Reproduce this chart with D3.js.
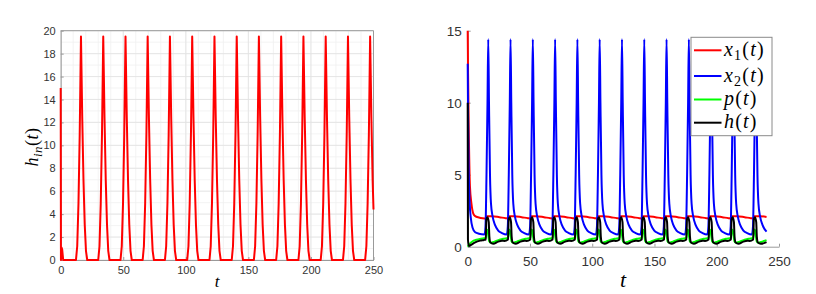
<!DOCTYPE html>
<html>
<head>
<meta charset="utf-8">
<script src="https://cdn.jsdelivr.net/npm/d3@7"></script>
<style>
body { margin: 0; background: #fff; }
svg { display: block; }
.tick text { font-family: "Liberation Sans", Arial, sans-serif; fill: #333; }
.math { font-family: "Liberation Serif", "Times New Roman", serif; fill: #000; }
</style>
</head>
<body>
<div id="chart"></div>
<script>
// left panel: h_in(t), [t, value]
const hinData = [
    [0, 15], [0.2, 0], [0.6, 1.1], [1.2, 0.9], [2.0, 0],
    [12.2, 0], [13.2, 1.2], [14.2, 4.9], [15.2, 11.0], [16.2, 19.5], [17.2, 12.5], [18.2, 7.0], [19.2, 3.1], [20.2, 0.8], [21.2, 0],
    [30.0, 0], [31.0, 1.2], [32.0, 4.9], [33.0, 11.0], [34.0, 19.5], [35.0, 12.5], [36.0, 7.0], [37.0, 3.1], [38.0, 0.8], [39.0, 0],
    [47.8, 0], [48.8, 1.2], [49.8, 4.9], [50.8, 11.0], [51.8, 19.5], [52.8, 12.5], [53.8, 7.0], [54.8, 3.1], [55.8, 0.8], [56.8, 0],
    [65.5, 0], [66.5, 1.2], [67.5, 4.9], [68.5, 11.0], [69.5, 19.5], [70.5, 12.5], [71.5, 7.0], [72.5, 3.1], [73.5, 0.8], [74.5, 0],
    [83.3, 0], [84.3, 1.2], [85.3, 4.9], [86.3, 11.0], [87.3, 19.5], [88.3, 12.5], [89.3, 7.0], [90.3, 3.1], [91.3, 0.8], [92.3, 0],
    [101.1, 0], [102.1, 1.2], [103.1, 4.9], [104.1, 11.0], [105.1, 19.5], [106.1, 12.5], [107.1, 7.0], [108.1, 3.1], [109.1, 0.8], [110.1, 0],
    [118.9, 0], [119.9, 1.2], [120.9, 4.9], [121.9, 11.0], [122.9, 19.5], [123.9, 12.5], [124.9, 7.0], [125.9, 3.1], [126.9, 0.8], [127.9, 0],
    [136.7, 0], [137.7, 1.2], [138.7, 4.9], [139.7, 11.0], [140.7, 19.5], [141.7, 12.5], [142.7, 7.0], [143.7, 3.1], [144.7, 0.8], [145.7, 0],
    [154.4, 0], [155.4, 1.2], [156.4, 4.9], [157.4, 11.0], [158.4, 19.5], [159.4, 12.5], [160.4, 7.0], [161.4, 3.1], [162.4, 0.8], [163.4, 0],
    [172.2, 0], [173.2, 1.2], [174.2, 4.9], [175.2, 11.0], [176.2, 19.5], [177.2, 12.5], [178.2, 7.0], [179.2, 3.1], [180.2, 0.8], [181.2, 0],
    [190.0, 0], [191.0, 1.2], [192.0, 4.9], [193.0, 11.0], [194.0, 19.5], [195.0, 12.5], [196.0, 7.0], [197.0, 3.1], [198.0, 0.8], [199.0, 0],
    [207.8, 0], [208.8, 1.2], [209.8, 4.9], [210.8, 11.0], [211.8, 19.5], [212.8, 12.5], [213.8, 7.0], [214.8, 3.1], [215.8, 0.8], [216.8, 0],
    [225.6, 0], [226.6, 1.2], [227.6, 4.9], [228.6, 11.0], [229.6, 19.5], [230.6, 12.5], [231.6, 7.0], [232.6, 3.1], [233.6, 0.8], [234.6, 0],
    [243.3, 0], [244.3, 1.2], [245.3, 4.9], [246.3, 11.0], [247.3, 19.5], [248.3, 12.5], [249.3, 7.0], [250, 4.4]
];

// right panel: x1(t)
const x1Data = [
    [0, 15], [0.3, 12], [0.8, 8.5], [1.8, 4.2], [3, 3.0], [4.5, 2.3], [6, 2.12], [9, 2.03], [12, 1.98],
    [14.7, 1.96], [15.2, 2.12], [19.5, 2.12], [25.5, 2.05], [30.5, 1.98],
    [32.6, 1.96], [33.1, 2.12], [37.4, 2.12], [43.4, 2.05], [48.4, 1.98],
    [50.5, 1.96], [51.0, 2.12], [55.3, 2.12], [61.3, 2.05], [66.3, 1.98],
    [68.4, 1.96], [68.9, 2.12], [73.2, 2.12], [79.2, 2.05], [84.2, 1.98],
    [86.3, 1.96], [86.8, 2.12], [91.1, 2.12], [97.1, 2.05], [102.1, 1.98],
    [104.2, 1.96], [104.7, 2.12], [109.0, 2.12], [115.0, 2.05], [120.0, 1.98],
    [122.1, 1.96], [122.6, 2.12], [126.9, 2.12], [132.9, 2.05], [137.9, 1.98],
    [140.0, 1.96], [140.5, 2.12], [144.8, 2.12], [150.8, 2.05], [155.8, 1.98],
    [157.9, 1.96], [158.4, 2.12], [162.7, 2.12], [168.7, 2.05], [173.7, 1.98],
    [175.8, 1.96], [176.3, 2.12], [180.6, 2.12], [186.6, 2.05], [191.6, 1.98],
    [193.7, 1.96], [194.2, 2.12], [198.5, 2.12], [204.5, 2.05], [209.5, 1.98],
    [211.6, 1.96], [212.1, 2.12], [216.4, 2.12], [222.4, 2.05], [227.4, 1.98],
    [229.5, 1.96], [230.0, 2.12], [234.3, 2.12], [240, 2.07]
];

// right panel: x2(t)
const x2Data = [
    [0, 12.7], [0.3, 9], [0.8, 5.5], [1.5, 3.2], [2.5, 2.0], [4, 1.3], [6, 1.0], [9, 0.9], [13.5, 0.85],
    [14.3, 1.4], [15.1, 5.0], [15.9, 10.0], [16.5, 14.4], [17.1, 10.0], [17.9, 5.0], [18.7, 3.0], [20.0, 2.1], [22.0, 1.5], [24.5, 1.12], [27.5, 0.95],
    [31.4, 0.85], [32.2, 1.4], [33.0, 5.0], [33.8, 10.0], [34.4, 14.4], [35.0, 10.0], [35.8, 5.0], [36.6, 3.0], [37.9, 2.1], [39.9, 1.5], [42.4, 1.12], [45.4, 0.95],
    [49.3, 0.85], [50.1, 1.4], [50.9, 5.0], [51.7, 10.0], [52.3, 14.4], [52.9, 10.0], [53.7, 5.0], [54.5, 3.0], [55.8, 2.1], [57.8, 1.5], [60.3, 1.12], [63.3, 0.95],
    [67.2, 0.85], [68.0, 1.4], [68.8, 5.0], [69.6, 10.0], [70.2, 14.4], [70.8, 10.0], [71.6, 5.0], [72.4, 3.0], [73.7, 2.1], [75.7, 1.5], [78.2, 1.12], [81.2, 0.95],
    [85.1, 0.85], [85.9, 1.4], [86.7, 5.0], [87.5, 10.0], [88.1, 14.4], [88.7, 10.0], [89.5, 5.0], [90.3, 3.0], [91.6, 2.1], [93.6, 1.5], [96.1, 1.12], [99.1, 0.95],
    [103.0, 0.85], [103.8, 1.4], [104.6, 5.0], [105.4, 10.0], [106.0, 14.4], [106.6, 10.0], [107.4, 5.0], [108.2, 3.0], [109.5, 2.1], [111.5, 1.5], [114.0, 1.12], [117.0, 0.95],
    [120.9, 0.85], [121.7, 1.4], [122.5, 5.0], [123.3, 10.0], [123.9, 14.4], [124.5, 10.0], [125.3, 5.0], [126.1, 3.0], [127.4, 2.1], [129.4, 1.5], [131.9, 1.12], [134.9, 0.95],
    [138.8, 0.85], [139.6, 1.4], [140.4, 5.0], [141.2, 10.0], [141.8, 14.4], [142.4, 10.0], [143.2, 5.0], [144.0, 3.0], [145.3, 2.1], [147.3, 1.5], [149.8, 1.12], [152.8, 0.95],
    [156.7, 0.85], [157.5, 1.4], [158.3, 5.0], [159.1, 10.0], [159.7, 14.4], [160.3, 10.0], [161.1, 5.0], [161.9, 3.0], [163.2, 2.1], [165.2, 1.5], [167.7, 1.12], [170.7, 0.95],
    [174.6, 0.85], [175.4, 1.4], [176.2, 5.0], [177.0, 10.0], [177.6, 14.4], [178.2, 10.0], [179.0, 5.0], [179.8, 3.0], [181.1, 2.1], [183.1, 1.5], [185.6, 1.12], [188.6, 0.95],
    [192.5, 0.85], [193.3, 1.4], [194.1, 5.0], [194.9, 10.0], [195.5, 14.4], [196.1, 10.0], [196.9, 5.0], [197.7, 3.0], [199.0, 2.1], [201.0, 1.5], [203.5, 1.12], [206.5, 0.95],
    [210.4, 0.85], [211.2, 1.4], [212.0, 5.0], [212.8, 10.0], [213.4, 14.4], [214.0, 10.0], [214.8, 5.0], [215.6, 3.0], [216.9, 2.1], [218.9, 1.5], [221.4, 1.12], [224.4, 0.95],
    [228.3, 0.85], [229.1, 1.4], [229.9, 5.0], [230.7, 10.0], [231.3, 14.4], [231.9, 10.0], [232.7, 5.0], [233.5, 3.0], [234.8, 2.1], [236.8, 1.5], [240, 1.05]
];

// right panel: p(t)
const pData = [
    [0, 0], [1, 0.12], [2, 0.23], [4, 0.38], [6, 0.46], [9, 0.52], [12, 0.57],
    [14.5, 0.6], [15.0, 1.2], [15.9, 1.15], [16.7, 0.7], [17.3, 0.38], [18.5, 0.28], [21.5, 0.35], [25.5, 0.48], [28.5, 0.55],
    [32.4, 0.6], [32.9, 1.2], [33.8, 1.15], [34.6, 0.7], [35.2, 0.38], [36.4, 0.28], [39.4, 0.35], [43.4, 0.48], [46.4, 0.55],
    [50.3, 0.6], [50.8, 1.2], [51.7, 1.15], [52.5, 0.7], [53.1, 0.38], [54.3, 0.28], [57.3, 0.35], [61.3, 0.48], [64.3, 0.55],
    [68.2, 0.6], [68.7, 1.2], [69.6, 1.15], [70.4, 0.7], [71.0, 0.38], [72.2, 0.28], [75.2, 0.35], [79.2, 0.48], [82.2, 0.55],
    [86.1, 0.6], [86.6, 1.2], [87.5, 1.15], [88.3, 0.7], [88.9, 0.38], [90.1, 0.28], [93.1, 0.35], [97.1, 0.48], [100.1, 0.55],
    [104.0, 0.6], [104.5, 1.2], [105.4, 1.15], [106.2, 0.7], [106.8, 0.38], [108.0, 0.28], [111.0, 0.35], [115.0, 0.48], [118.0, 0.55],
    [121.9, 0.6], [122.4, 1.2], [123.3, 1.15], [124.1, 0.7], [124.7, 0.38], [125.9, 0.28], [128.9, 0.35], [132.9, 0.48], [135.9, 0.55],
    [139.8, 0.6], [140.3, 1.2], [141.2, 1.15], [142.0, 0.7], [142.6, 0.38], [143.8, 0.28], [146.8, 0.35], [150.8, 0.48], [153.8, 0.55],
    [157.7, 0.6], [158.2, 1.2], [159.1, 1.15], [159.9, 0.7], [160.5, 0.38], [161.7, 0.28], [164.7, 0.35], [168.7, 0.48], [171.7, 0.55],
    [175.6, 0.6], [176.1, 1.2], [177.0, 1.15], [177.8, 0.7], [178.4, 0.38], [179.6, 0.28], [182.6, 0.35], [186.6, 0.48], [189.6, 0.55],
    [193.5, 0.6], [194.0, 1.2], [194.9, 1.15], [195.7, 0.7], [196.3, 0.38], [197.5, 0.28], [200.5, 0.35], [204.5, 0.48], [207.5, 0.55],
    [211.4, 0.6], [211.9, 1.2], [212.8, 1.15], [213.6, 0.7], [214.2, 0.38], [215.4, 0.28], [218.4, 0.35], [222.4, 0.48], [225.4, 0.55],
    [229.3, 0.6], [229.8, 1.2], [230.7, 1.15], [231.5, 0.7], [232.1, 0.38], [233.3, 0.28], [236.3, 0.35], [240, 0.46]
];

// right panel: h(t)
const hData = [
    [0, 10], [0.2, 0.5], [1, 0.05], [3, 0.15], [6, 0.3], [10, 0.42], [13, 0.47],
    [14.5, 0.5], [15.0, 1.9], [15.9, 2.05], [16.9, 1.7], [17.4, 0.7], [18.2, 0.3], [20.5, 0.2], [24.5, 0.35], [27.5, 0.42], [29.5, 0.4],
    [32.4, 0.5], [32.9, 1.9], [33.8, 2.05], [34.8, 1.7], [35.3, 0.7], [36.1, 0.3], [38.4, 0.2], [42.4, 0.35], [45.4, 0.42], [47.4, 0.4],
    [50.3, 0.5], [50.8, 1.9], [51.7, 2.05], [52.7, 1.7], [53.2, 0.7], [54.0, 0.3], [56.3, 0.2], [60.3, 0.35], [63.3, 0.42], [65.3, 0.4],
    [68.2, 0.5], [68.7, 1.9], [69.6, 2.05], [70.6, 1.7], [71.1, 0.7], [71.9, 0.3], [74.2, 0.2], [78.2, 0.35], [81.2, 0.42], [83.2, 0.4],
    [86.1, 0.5], [86.6, 1.9], [87.5, 2.05], [88.5, 1.7], [89.0, 0.7], [89.8, 0.3], [92.1, 0.2], [96.1, 0.35], [99.1, 0.42], [101.1, 0.4],
    [104.0, 0.5], [104.5, 1.9], [105.4, 2.05], [106.4, 1.7], [106.9, 0.7], [107.7, 0.3], [110.0, 0.2], [114.0, 0.35], [117.0, 0.42], [119.0, 0.4],
    [121.9, 0.5], [122.4, 1.9], [123.3, 2.05], [124.3, 1.7], [124.8, 0.7], [125.6, 0.3], [127.9, 0.2], [131.9, 0.35], [134.9, 0.42], [136.9, 0.4],
    [139.8, 0.5], [140.3, 1.9], [141.2, 2.05], [142.2, 1.7], [142.7, 0.7], [143.5, 0.3], [145.8, 0.2], [149.8, 0.35], [152.8, 0.42], [154.8, 0.4],
    [157.7, 0.5], [158.2, 1.9], [159.1, 2.05], [160.1, 1.7], [160.6, 0.7], [161.4, 0.3], [163.7, 0.2], [167.7, 0.35], [170.7, 0.42], [172.7, 0.4],
    [175.6, 0.5], [176.1, 1.9], [177.0, 2.05], [178.0, 1.7], [178.5, 0.7], [179.3, 0.3], [181.6, 0.2], [185.6, 0.35], [188.6, 0.42], [190.6, 0.4],
    [193.5, 0.5], [194.0, 1.9], [194.9, 2.05], [195.9, 1.7], [196.4, 0.7], [197.2, 0.3], [199.5, 0.2], [203.5, 0.35], [206.5, 0.42], [208.5, 0.4],
    [211.4, 0.5], [211.9, 1.9], [212.8, 2.05], [213.8, 1.7], [214.3, 0.7], [215.1, 0.3], [217.4, 0.2], [221.4, 0.35], [224.4, 0.42], [226.4, 0.4],
    [229.3, 0.5], [229.8, 1.9], [230.7, 2.05], [231.7, 1.7], [232.2, 0.7], [233.0, 0.3], [235.3, 0.2], [240, 0.32]
];

// tick values
const xTicks = [0, 50, 100, 150, 200, 250];
const yTicksLeft = [0, 2, 4, 6, 8, 10, 12, 14, 16, 18, 20];
const yTicksRight = [0, 5, 10, 15];
const xMinor = d3.range(0, 251, 10);
const yMinor = d3.range(0, 21, 1);

const svgWidth = 816;
const svgHeight = 294;

const svg = d3.select("#chart")
    .append("svg")
    .attr("width", svgWidth)
    .attr("height", svgHeight);

// scales
const xLeft = d3.scaleLinear().domain([0, 250]).range([60.7, 373.5]);
const yLeft = d3.scaleLinear().domain([0, 20]).range([260, 30.7]);
const xRight = d3.scaleLinear().domain([0, 250]).range([467.7, 779]);
const yRight = d3.scaleLinear().domain([0, 15]).range([246.7, 30.7]);

const axisColor = "#9a9a9a";

// left grid, minor then major
const grid = svg.append("g");
grid.selectAll(".vminor").data(xMinor).enter().append("line")
    .attr("x1", d => xLeft(d)).attr("x2", d => xLeft(d))
    .attr("y1", yLeft(0)).attr("y2", yLeft(20))
    .attr("stroke", "#f0f0f0").attr("stroke-width", 0.8);
grid.selectAll(".hminor").data(yMinor).enter().append("line")
    .attr("x1", xLeft(0)).attr("x2", xLeft(250))
    .attr("y1", d => yLeft(d)).attr("y2", d => yLeft(d))
    .attr("stroke", "#f0f0f0").attr("stroke-width", 0.8);
grid.selectAll(".vmajor").data(xTicks).enter().append("line")
    .attr("x1", d => xLeft(d)).attr("x2", d => xLeft(d))
    .attr("y1", yLeft(0)).attr("y2", yLeft(20))
    .attr("stroke", "#e2e2e2").attr("stroke-width", 0.8);
grid.selectAll(".hmajor").data(yTicksLeft).enter().append("line")
    .attr("x1", xLeft(0)).attr("x2", xLeft(250))
    .attr("y1", d => yLeft(d)).attr("y2", d => yLeft(d))
    .attr("stroke", "#e2e2e2").attr("stroke-width", 0.8);

// left axes
const xAxisLeft = svg.append("g")
    .attr("transform", `translate(0, ${yLeft(0)})`)
    .call(d3.axisBottom(xLeft).tickValues(xTicks).tickSize(-3).tickSizeOuter(0).tickPadding(6));
const yAxisLeft = svg.append("g")
    .attr("transform", `translate(${xLeft(0)}, 0)`)
    .call(d3.axisLeft(yLeft).tickValues(yTicksLeft).tickSize(-3).tickSizeOuter(0).tickPadding(5));
[xAxisLeft, yAxisLeft].forEach(a => a.selectAll("text").style("font-size", "11px"));

// box top and right
svg.append("line")
    .attr("x1", xLeft(0)).attr("x2", xLeft(250))
    .attr("y1", yLeft(20)).attr("y2", yLeft(20))
    .attr("stroke", axisColor);
svg.append("line")
    .attr("x1", xLeft(250)).attr("x2", xLeft(250))
    .attr("y1", yLeft(0)).attr("y2", yLeft(20))
    .attr("stroke", axisColor);

// right axes
const xAxisRight = svg.append("g")
    .attr("transform", `translate(0, ${yRight(0)})`)
    .call(d3.axisBottom(xRight).tickValues(xTicks).tickSize(-3).tickSizeOuter(0).tickPadding(10));
const yAxisRight = svg.append("g")
    .attr("transform", `translate(${xRight(0)}, 0)`)
    .call(d3.axisLeft(yRight).tickValues(yTicksRight).tickSize(-3).tickSizeOuter(0).tickPadding(6));
[xAxisRight, yAxisRight].forEach(a => a.selectAll("text").style("font-size", "13.5px"));

svg.selectAll(".domain").attr("stroke", axisColor);
svg.selectAll(".tick line").attr("stroke", axisColor);

// lines
const lineLeft = d3.line()
    .x(d => xLeft(d[0]))
    .y(d => yLeft(d[1]));

const lineRight = d3.line()
    .x(d => xRight(d[0]))
    .y(d => yRight(d[1]))
    .curve(d3.curveMonotoneX);

svg.append("path")
    .datum(hinData)
    .attr("d", lineLeft)
    .attr("fill", "none")
    .attr("stroke", "#ff0000")
    .attr("stroke-width", 2)
    .attr("stroke-linejoin", "round");

const series = [
    { data: x1Data, color: "#ff0000" },
    { data: x2Data, color: "#0000ff" },
    { data: pData, color: "#00ff00" },
    { data: hData, color: "#000000" }
];

series.forEach(s => {
    svg.append("path")
        .datum(s.data)
        .attr("d", lineRight)
        .attr("fill", "none")
        .attr("stroke", s.color)
        .attr("stroke-width", 2)
        .attr("stroke-linejoin", "round");
});

// axis labels
svg.append("text")
    .attr("class", "math")
    .attr("x", 217)
    .attr("y", 287)
    .attr("text-anchor", "middle")
    .style("font-size", "17px")
    .style("font-style", "italic")
    .text("t");

const hinLabel = svg.append("text")
    .attr("class", "math")
    .attr("transform", "translate(38, 147) rotate(-90)")
    .attr("text-anchor", "middle")
    .style("font-size", "18px")
    .style("letter-spacing", "0.5px");
hinLabel.append("tspan").style("font-style", "italic").text("h");
hinLabel.append("tspan").style("font-style", "italic").style("font-size", "13px").attr("dy", 4).text("in");
hinLabel.append("tspan").attr("dy", -4).text("(");
hinLabel.append("tspan").style("font-style", "italic").text("t");
hinLabel.append("tspan").text(")");

svg.append("text")
    .attr("class", "math")
    .attr("x", 623)
    .attr("y", 287)
    .attr("text-anchor", "middle")
    .style("font-size", "22px")
    .style("font-style", "italic")
    .text("t");

// legend
const legendNames = [["x", "1"], ["x", "2"], ["p", ""], ["h", ""]];
const legendRows = [50.3, 76, 99.5, 122.7];

const legend = svg.append("g");
legend.append("rect")
    .attr("x", 691)
    .attr("y", 37.3)
    .attr("width", 81)
    .attr("height", 98.4)
    .attr("fill", "#fff")
    .attr("stroke", "#8a8a8a")
    .attr("stroke-width", 1);

series.forEach((s, i) => {
    legend.append("line")
        .attr("x1", 694).attr("x2", 721.5)
        .attr("y1", legendRows[i]).attr("y2", legendRows[i])
        .attr("stroke", s.color)
        .attr("stroke-width", 2);

    const label = legend.append("text")
        .attr("class", "math")
        .attr("x", 724)
        .attr("y", legendRows[i] + 5.5)
        .style("font-size", "20px")
        .style("letter-spacing", "1.2px");
    label.append("tspan").style("font-style", "italic").text(legendNames[i][0]);
    if (legendNames[i][1]) {
        label.append("tspan").style("font-size", "14px").attr("dy", 4).text(legendNames[i][1]);
        label.append("tspan").attr("dy", -4).text("(");
    } else {
        label.append("tspan").text("(");
    }
    label.append("tspan").style("font-style", "italic").text("t");
    label.append("tspan").text(")");
});
</script>
</body>
</html>
